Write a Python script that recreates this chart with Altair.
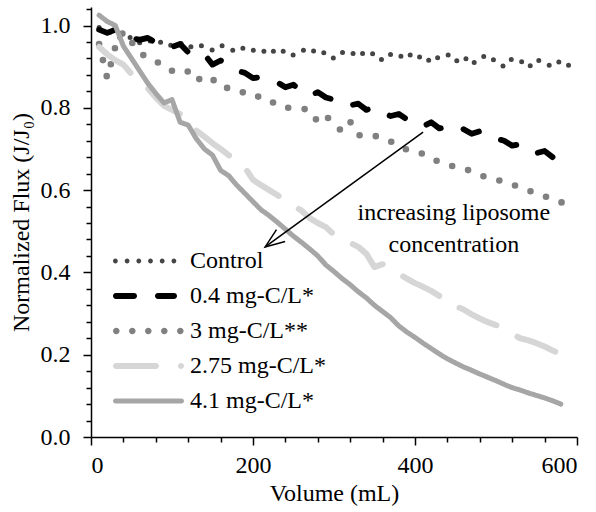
import altair as alt
import pandas as pd

# ---------------- data ----------------
volume_ml = list(range(10, 600, 10))  # 10 .. 590

series_names = ["Control", "0.4 mg-C/L*", "3 mg-C/L**", "2.75 mg-C/L*", "4.1 mg-C/L*"]

control = [0.995, 0.985, 0.978, 0.965, 0.972, 0.958, 0.966, 0.955, 0.962, 0.950,
           0.958, 0.945, 0.955, 0.948, 0.940, 0.952, 0.944, 0.936, 0.948, 0.940,
           0.933, 0.945, 0.930, 0.940, 0.928, 0.938, 0.945, 0.930, 0.935, 0.920,
           0.935, 0.928, 0.940, 0.925, 0.933, 0.915, 0.930, 0.922, 0.935, 0.918,
           0.928, 0.910, 0.925, 0.930, 0.912, 0.925, 0.905, 0.922, 0.928, 0.912,
           0.900, 0.920, 0.915, 0.898, 0.918, 0.908, 0.900, 0.915, 0.903]

lipo_04 = [0.990, 0.982, 0.990, 0.975, 0.970, 0.965, 0.970, 0.958, 0.960, 0.948,
           0.955, 0.935, 0.925, 0.930, 0.905, 0.915, 0.905, 0.890, 0.885, 0.872,
           0.875, 0.868, 0.862, 0.850, 0.856, 0.840, 0.830, 0.838, 0.825, 0.820,
           0.818, 0.806, 0.810, 0.795, 0.800, 0.788, 0.780, 0.785, 0.772, 0.768,
           0.755, 0.765, 0.750, 0.752, 0.742, 0.748, 0.737, 0.743, 0.730, 0.725,
           0.720, 0.708, 0.712, 0.700, 0.690, 0.695, 0.680, 0.688, 0.672]

lipo_3 = [0.955, 0.872, 0.948, 0.985, 0.960, 0.935, 0.920, 0.912, 0.905, 0.890,
          0.895, 0.888, 0.865, 0.878, 0.870, 0.850, 0.848, 0.845, 0.835, 0.826,
          0.828, 0.820, 0.805, 0.800, 0.800, 0.798, 0.795, 0.765, 0.780, 0.762,
          0.742, 0.766, 0.733, 0.736, 0.732, 0.727, 0.718, 0.710, 0.698, 0.693,
          0.688, 0.678, 0.668, 0.662, 0.656, 0.653, 0.645, 0.637, 0.630, 0.626,
          0.620, 0.614, 0.606, 0.599, 0.592, 0.585, 0.578, 0.571, 0.562]

lipo_275 = [0.948, 0.930, 0.916, 0.905, 0.882, 0.862, 0.848, 0.825, 0.805, 0.795,
            0.785, 0.772, 0.745, 0.730, 0.714, 0.700, 0.685, 0.672, 0.655, 0.625,
            0.612, 0.600, 0.588, 0.575, 0.562, 0.550, 0.532, 0.520, 0.510, 0.492,
            0.485, 0.472, 0.462, 0.445, 0.413, 0.420, 0.405, 0.396, 0.385, 0.374,
            0.365, 0.355, 0.343, 0.325, 0.318, 0.310, 0.298, 0.288, 0.279, 0.272,
            0.265, 0.250, 0.240, 0.235, 0.228, 0.220, 0.210, 0.202, 0.193]

lipo_41 = [1.025, 1.010, 1.000, 0.950, 0.920, 0.890, 0.860, 0.835, 0.812, 0.820,
           0.765, 0.758, 0.725, 0.700, 0.685, 0.648, 0.635, 0.612, 0.592, 0.572,
           0.552, 0.538, 0.522, 0.505, 0.488, 0.473, 0.457, 0.440, 0.418, 0.402,
           0.385, 0.370, 0.353, 0.338, 0.320, 0.305, 0.290, 0.270, 0.255, 0.242,
           0.228, 0.215, 0.202, 0.190, 0.180, 0.170, 0.162, 0.153, 0.145, 0.137,
           0.128, 0.120, 0.114, 0.107, 0.101, 0.095, 0.088, 0.080, None]

# annotation
arrow_start = (410, 0.741)
arrow_end = (215, 0.462)
note_lines = ["increasing liposome", "concentration"]
note_x = 448
note_y = [0.544, 0.467]

# tick values
x_ticks = list(range(0, 601, 40))
y_ticks = [round(i * 0.04, 2) for i in range(27)]

# ---------------- build table ----------------
rows = []
for name, ys in zip(series_names, [control, lipo_04, lipo_3, lipo_275, lipo_41]):
    for i, (x, y) in enumerate(zip(volume_ml, ys)):
        if y is not None:
            rows.append({"series": name, "volume": x, "flux": y, "idx": i})
df = pd.DataFrame(rows)

# ---------------- styles ----------------
colors = ["#454545", "#000000", "#808080", "#d6d6d6", "#a6a6a6"]
dashes = [[0, 11.5], [17, 24], [0, 16.5], [41, 24], [1, 0]]
widths = [5, 5.8, 6.6, 6, 5]

FONT = "Liberation Serif, Times New Roman, Times, DejaVu Serif, serif"
FS = 24

# legend glyphs drawn as filled SVG paths; the symbol box is small (SYM px)
# and the glyph extends to the right of it over GLYPH_W px
SYM = 10.0
H = SYM / 2
GLYPH_W = 71.0


def u(p):
    return (p - H) / H


def bar(a, b, t):
    h = t / 2
    a2, b2 = u(a + h), u(b - h)
    r = h / H
    return (f"M{a2:.4f},{-r:.4f}L{b2:.4f},{-r:.4f}A{r:.4f},{r:.4f} 0 0 1 {b2:.4f},{r:.4f}"
            f"L{a2:.4f},{r:.4f}A{r:.4f},{r:.4f} 0 0 1 {a2:.4f},{-r:.4f}Z")


def dot(c, rad):
    cu, r = u(c), rad / H
    return (f"M{cu - r:.4f},0A{r:.4f},{r:.4f} 0 1 0 {cu + r:.4f},0"
            f"A{r:.4f},{r:.4f} 0 1 0 {cu - r:.4f},0Z")


glyphs = [
    "".join(dot(2.4 + 11.7 * k, 2.4) for k in range(6)),
    bar(0, 24, 5.8) + bar(42, 64, 5.8),
    "".join(dot(3.3 + 16 * k, 3.3) for k in range(5)),
    bar(0, 46, 6) + bar(65, 71, 6),
    bar(0, 71, 5),
]

x_scale = alt.Scale(domain=[0, 600], nice=False, zero=False)
y_scale = alt.Scale(domain=[0, 1.045], nice=False)

major_y = "abs(datum.value*5 - round(datum.value*5)) < 0.001"
x_axis = alt.Axis(
    values=x_ticks,
    labelExpr="datum.value % 200 === 0 ? datum.label : ''",
    labelOverlap=False,
    tickSize={"condition": {"test": "datum.value % 200 === 0", "value": 8}, "value": 5},
    grid=False, domainColor="black", domainWidth=1.5, tickColor="black", tickWidth=1.5,
    labelFont=FONT, labelFontSize=FS, labelColor="black", labelPadding=8,
    title="Volume (mL)", titleFont=FONT, titleFontSize=FS, titleFontWeight="normal",
    titleColor="black", titlePadding=4,
)
y_axis = alt.Axis(
    values=y_ticks,
    format=".1f",
    labelExpr=major_y + " ? datum.label : ''",
    labelOverlap=False,
    tickSize={"condition": {"test": major_y, "value": 8}, "value": 5},
    grid=False, domainColor="black", domainWidth=1.5, tickColor="black", tickWidth=1.5,
    labelFont=FONT, labelFontSize=FS, labelColor="black", labelPadding=13,
    title="Normalized Flux (J/J₀)", titleFont=FONT, titleFontSize=FS, titleFontWeight="normal",
    titleColor="black", titlePadding=7,
)


def X(field):
    return alt.X(field, scale=x_scale, axis=x_axis)


def Y(field):
    return alt.Y(field, scale=y_scale, axis=y_axis)


legend = alt.Legend(
    title=None, orient="none", legendX=15, legendY=242,
    symbolSize=SYM * SYM, symbolStrokeWidth=0, symbolOpacity=1,
    labelFont=FONT, labelFontSize=FS, labelColor="black",
    labelOffset=GLYPH_W - SYM - 1,
    rowPadding=11,
)

layers = []
for name, col, dsh, w in zip(series_names, colors, dashes, widths):
    layers.append(
        alt.Chart(df).transform_filter(alt.datum.series == name)
        .mark_line(color=col, strokeDash=dsh, strokeWidth=w,
                   strokeCap="round", strokeJoin="round")
        .encode(x=X("volume:Q"), y=Y("flux:Q"), order="idx:Q")
    )

# legend carrier: no rows drawn, only the legend from the explicit scale domains
legend_layer = alt.Chart(df).transform_filter("false").mark_point(
    filled=True, size=SYM * SYM, opacity=1).encode(
    x=X("volume:Q"),
    y=Y("flux:Q"),
    color=alt.Color("series:N", scale=alt.Scale(domain=series_names, range=colors),
                    legend=legend),
    shape=alt.Shape("series:N", scale=alt.Scale(domain=series_names, range=glyphs),
                    legend=legend),
)

arrow_df = pd.DataFrame([{"x": arrow_start[0], "y": arrow_start[1],
                          "x2": arrow_end[0], "y2": arrow_end[1]}])
shaft = alt.Chart(arrow_df).mark_rule(color="black", strokeWidth=1.5).encode(
    x=X("x:Q"), y=Y("y:Q"), x2="x2:Q", y2="y2:Q")
head = alt.Chart(arrow_df).mark_point(
    shape="M-1,-0.38L0,0L-1,0.38", angle=144, size=1500, filled=False,
    stroke="black", strokeWidth=1.5, opacity=1).encode(
    x=X("x2:Q"), y=Y("y2:Q"))

note_df = pd.DataFrame({"x": [note_x, note_x], "y": note_y, "t": note_lines})
note = alt.Chart(note_df).mark_text(font=FONT, fontSize=FS, color="black",
                                    align="center", baseline="middle").encode(
    x=X("x:Q"), y=Y("y:Q"), text="t:N")

chart = alt.layer(*layers, legend_layer, shaft, head, note).properties(
    width=486, height=430,
    padding={"left": 91, "top": 7, "right": 19, "bottom": 75},
    autosize=alt.AutoSizeParams(type="none"),
).configure_view(strokeWidth=0)

chart.save("out.html", embed_options={"renderer": "svg", "actions": False})
